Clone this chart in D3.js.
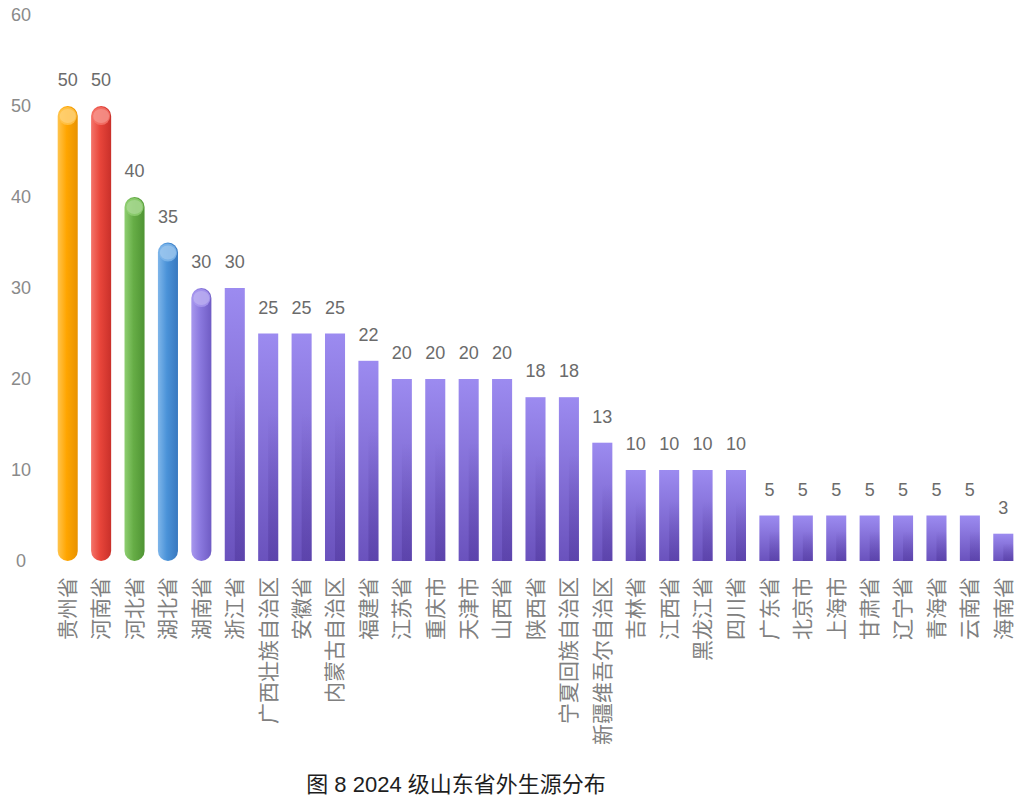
<!DOCTYPE html>
<html>
<head>
<meta charset="utf-8">
<script src="https://cdn.jsdelivr.net/npm/d3@7"></script>
<style>
	body { margin: 0; background: #fff; }
	text { font-family: "Liberation Sans", "Noto Sans CJK SC", sans-serif; }
</style>
</head>
<body>
<svg id="chart" width="1024" height="801"></svg>
<script>
// provinces, in the order of the picture
var provinces = ["贵州省", "河南省", "河北省", "湖北省", "湖南省", "浙江省", "广西壮族自治区", "安徽省", "内蒙古自治区", "福建省",
	"江苏省", "重庆市", "天津市", "山西省", "陕西省", "宁夏回族自治区", "新疆维吾尔自治区", "吉林省", "江西省", "黑龙江省",
	"四川省", "广东省", "北京市", "上海市", "甘肃省", "辽宁省", "青海省", "云南省", "海南省"];
var students = [50, 50, 40, 35, 30, 30, 25, 25, 25, 22, 20, 20, 20, 20, 18, 18, 13, 10, 10, 10, 10, 5, 5, 5, 5, 5, 5, 5, 3];
var yTicks = [0, 10, 20, 30, 40, 50, 60];
var chartTitle = "图 8 2024 级山东省外生源分布";

// the first five are drawn as round tubes, each with its own colour
var tubeColors = [
	["#ffc44d", "#ffa500", "#e89200"],
	["#f4746a", "#e8453a", "#c9302a"],
	["#8fcf72", "#66ad46", "#4f9433"],
	["#7fb6ea", "#4a92d8", "#3878bf"],
	["#a898ee", "#8a78de", "#6f5cc4"]
];

var svg = d3.select("#chart");
var defs = svg.append("defs");

var x = d3.scaleBand().domain(provinces).range([51, 1020]).paddingInner(0.4).paddingOuter(0.2);
var y = d3.scaleLinear().domain([0, 60]).range([561, 15]);

/*
Gradients
*/
tubeColors.forEach(function(c, i) {
	var g = defs.append("linearGradient").attr("id", "tube" + i).attr("x1", 0).attr("x2", 1).attr("y1", 0).attr("y2", 0);
	g.append("stop").attr("offset", "0%").attr("stop-color", c[0]);
	g.append("stop").attr("offset", "45%").attr("stop-color", c[1]);
	g.append("stop").attr("offset", "100%").attr("stop-color", c[2]);
});
var bg = defs.append("linearGradient").attr("id", "boxFill").attr("x1", 0).attr("x2", 0).attr("y1", 0).attr("y2", 1);
bg.append("stop").attr("offset", "0%").attr("stop-color", "#9c8bf0");
bg.append("stop").attr("offset", "100%").attr("stop-color", "#6a52bd");
var bs = defs.append("linearGradient").attr("id", "boxShade").attr("x1", 0).attr("x2", 0).attr("y1", 0).attr("y2", 1);
bs.append("stop").attr("offset", "0%").attr("stop-color", "#4b3296").attr("stop-opacity", 0);
bs.append("stop").attr("offset", "100%").attr("stop-color", "#4b3296").attr("stop-opacity", 0.45);

/*
Y axis labels (no line, no grid)
*/
svg.append("g").selectAll("text").data(yTicks).enter().append("text")
	.attr("x", 21).attr("y", function(d) { return y(d); }).attr("dy", "0.35em")
	.attr("text-anchor", "middle").attr("font-size", 18).attr("fill", "#8a8a8a")
	.text(function(d) { return d; });

/*
Bars
*/
var w = x.bandwidth();
var bars = svg.append("g").selectAll("g").data(provinces).enter().append("g")
	.attr("transform", function(d) { return "translate(" + x(d) + ",0)"; });

bars.each(function(d, i) {
	var g = d3.select(this);
	var top = y(students[i]), base = y(0);
	if (i < tubeColors.length) {
		g.append("rect").attr("x", 0).attr("y", top).attr("width", w).attr("height", base - top)
			.attr("rx", w / 2).attr("ry", w / 2).attr("fill", "url(#tube" + i + ")");
		g.append("ellipse").attr("cx", w / 2).attr("cy", top + w / 2).attr("rx", w / 2 - 1).attr("ry", w / 2 - 1)
			.attr("fill", tubeColors[i][0]).attr("opacity", 0.85);
		g.append("ellipse").attr("cx", w / 2).attr("cy", top + w / 2).attr("rx", w / 2 - 2).attr("ry", w / 2 - 3)
			.attr("fill", "#fff").attr("opacity", 0.2);
	} else {
		g.append("rect").attr("x", 0).attr("y", top).attr("width", w).attr("height", base - top)
			.attr("fill", "url(#boxFill)");
		g.append("rect").attr("x", w * 0.5).attr("y", top + (base - top) * 0.35).attr("width", w * 0.5).attr("height", (base - top) * 0.65)
			.attr("fill", "url(#boxShade)");
	}
	g.append("text").attr("x", w / 2).attr("y", top - 20)
		.attr("text-anchor", "middle").attr("font-size", 18).attr("fill", "#6b6b6b")
		.text(students[i]);
});

/*
Category labels, rotated
*/
svg.append("g").selectAll("text").data(provinces).enter().append("text")
	.attr("transform", function(d) { return "translate(" + (x(d) + w / 2) + ",577) rotate(-90)"; })
	.attr("text-anchor", "end").attr("dy", "0.35em").attr("font-size", 21).attr("fill", "#808080")
	.attr("font-family", "Noto Sans CJK SC")
	.text(function(d) { return d; });

/*
Title
*/
svg.append("text").attr("x", 456).attr("y", 792).attr("text-anchor", "middle")
	.attr("font-size", 22).attr("fill", "#1e1e1e").text(chartTitle);
</script>
</body>
</html>
